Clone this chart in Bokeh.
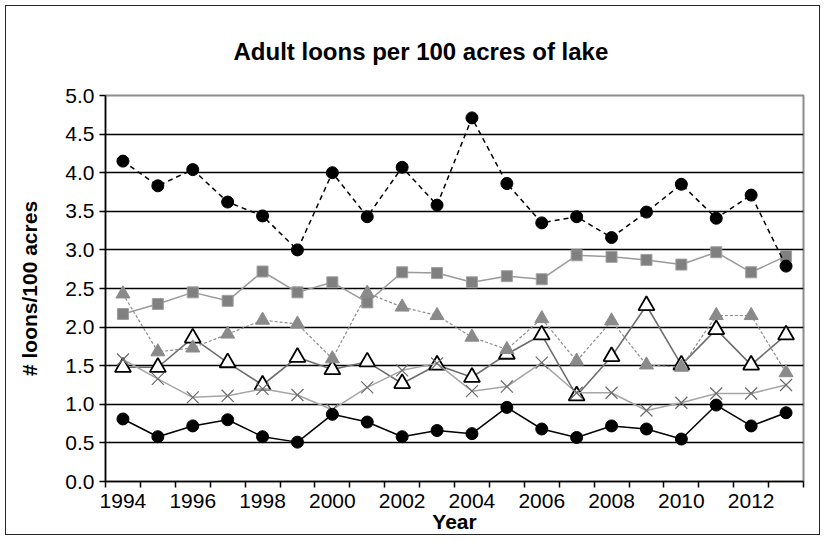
from bokeh.plotting import figure
from bokeh.models import FixedTicker, NumeralTickFormatter
from bokeh.embed import file_html
from bokeh.resources import INLINE

# Survey years
years = list(range(1994, 2014))

# Adult loons per 100 acres, one list per lake series
series_dash_circle = [4.15, 3.83, 4.04, 3.62, 3.44, 3.00, 4.00, 3.43, 4.07, 3.58,
                      4.71, 3.86, 3.35, 3.43, 3.16, 3.49, 3.85, 3.41, 3.71, 2.79]
series_square = [2.17, 2.30, 2.45, 2.34, 2.72, 2.45, 2.58, 2.32, 2.71, 2.70,
                 2.58, 2.66, 2.62, 2.93, 2.91, 2.87, 2.81, 2.97, 2.71, 2.92]
series_fill_tri = [2.43, 1.68, 1.73, 1.91, 2.09, 2.04, 1.59, 2.44, 2.26, 2.15,
                   1.87, 1.71, 2.11, 1.56, 2.08, 1.51, 1.48, 2.15, 2.15, 1.41]
series_open_tri = [1.48, 1.48, 1.86, 1.54, 1.25, 1.61, 1.45, 1.55, 1.27, 1.51,
                   1.35, 1.65, 1.90, 1.11, 1.62, 2.28, 1.51, 1.97, 1.51, 1.90]
series_cross = [1.58, 1.33, 1.09, 1.11, 1.20, 1.12, 0.93, 1.22, 1.44, 1.53,
                1.17, 1.23, 1.54, 1.15, 1.15, 0.92, 1.02, 1.14, 1.14, 1.25]
series_circle = [0.81, 0.58, 0.72, 0.80, 0.58, 0.51, 0.87, 0.77, 0.58, 0.66,
                 0.62, 0.96, 0.68, 0.57, 0.72, 0.68, 0.55, 0.99, 0.72, 0.89]

x_label_years = [1994, 1996, 1998, 2000, 2002, 2004, 2006, 2008, 2010, 2012]
y_ticks = [0.0, 0.5, 1.0, 1.5, 2.0, 2.5, 3.0, 3.5, 4.0, 4.5, 5.0]

FONT = "Liberation Sans"

p = figure(width=815, height=530, x_range=(1993.5, 2013.5), y_range=(0, 5),
           output_backend="svg", toolbar_location=None,
           min_border_left=99, min_border_right=18,
           min_border_top=89, min_border_bottom=55,
           title="Adult loons per 100 acres of lake")

# Outer chart border drawn around the canvas
p.styles = {"border": "1px solid #262626", "margin-left": "5px",
            "margin-top": "5px"}

p.background_fill_color = "white"
p.border_fill_color = "white"
p.outline_line_color = "#8c8c8c"
p.outline_line_width = 2

# Title
p.title.align = "left"
p.title.offset = 128
p.title.vertical_align = "top"
p.title.standoff = 57
p.title.text_font = FONT
p.title.text_font_size = "24px"
p.title.text_font_style = "bold"
p.title.text_color = "black"

# X axis: ticks between years, labels on even years
p.xaxis.ticker = FixedTicker(ticks=x_label_years,
                             minor_ticks=[y - 0.5 for y in years] + [2013.5])
p.xaxis.major_tick_out = 0
p.xaxis.major_tick_in = 0
p.xaxis.minor_tick_out = 6
p.xaxis.minor_tick_in = 0
p.xaxis.minor_tick_line_color = "black"
p.xaxis.minor_tick_line_width = 1.5
p.xaxis.axis_line_color = "black"
p.xaxis.axis_line_width = 1.5
p.xaxis.major_label_text_font = FONT
p.xaxis.major_label_text_font_size = "21px"
p.xaxis.major_label_text_color = "black"
p.xaxis.major_label_standoff = 6
p.xaxis.axis_label = "Year"
p.xaxis.axis_label_text_font = FONT
p.xaxis.axis_label_text_font_size = "21px"
p.xaxis.axis_label_text_font_style = "bold"
p.xaxis.axis_label_text_color = "black"
p.xaxis.axis_label_standoff = -1

# Y axis
p.yaxis.ticker = FixedTicker(ticks=y_ticks)
p.yaxis.formatter = NumeralTickFormatter(format="0.0")
p.yaxis.major_tick_out = 6
p.yaxis.major_tick_in = 0
p.yaxis.minor_tick_line_color = None
p.yaxis.major_tick_line_color = "black"
p.yaxis.major_tick_line_width = 1.5
p.yaxis.axis_line_color = "black"
p.yaxis.axis_line_width = 1.5
p.yaxis.major_label_text_font = FONT
p.yaxis.major_label_text_font_size = "21px"
p.yaxis.major_label_text_color = "black"
p.yaxis.major_label_standoff = 5
p.yaxis.axis_label = "# loons/100 acres"
p.yaxis.axis_label_text_font = FONT
p.yaxis.axis_label_text_font_size = "21px"
p.yaxis.axis_label_text_font_style = "bold"
p.yaxis.axis_label_text_color = "black"
p.yaxis.axis_label_standoff = 21

# Grid: horizontal black lines only
p.xgrid.visible = False
p.ygrid.ticker = FixedTicker(ticks=y_ticks[1:-1])
p.ygrid.grid_line_color = "black"
p.ygrid.grid_line_width = 1.6

# Series, each drawn as line then markers
p.line(years, series_square, line_color="#9a9a9a", line_width=1.5)
p.scatter(years, series_square, marker="square", size=11,
          fill_color="#808080", line_color="#a0a0a0", line_width=1)

p.line(years, series_open_tri, line_color="#6e6e6e", line_width=1.6)
p.scatter(years, series_open_tri, marker="triangle", size=16,
          fill_color="white", line_color="black", line_width=1.8)

p.line(years, series_cross, line_color="#a6a6a6", line_width=1.5)
p.scatter(years, series_cross, marker="x", size=17,
          line_color="#6a6a6a", line_width=1.2)

p.line(years, series_fill_tri, line_color="#8c8c8c", line_width=1.2,
       line_dash="3 2")
p.scatter(years, series_fill_tri, marker="triangle", size=14,
          fill_color="#8a8a8a", line_color="#8a8a8a", line_width=1)

p.line(years, series_circle, line_color="black", line_width=1.5)
p.scatter(years, series_circle, marker="circle", size=12,
          fill_color="black", line_color="black")

p.line(years, series_dash_circle, line_color="black", line_width=1.5,
       line_dash="5 4")
p.scatter(years, series_dash_circle, marker="circle", size=12,
          fill_color="black", line_color="black")

open("out.html", "w").write(file_html(p, INLINE))
